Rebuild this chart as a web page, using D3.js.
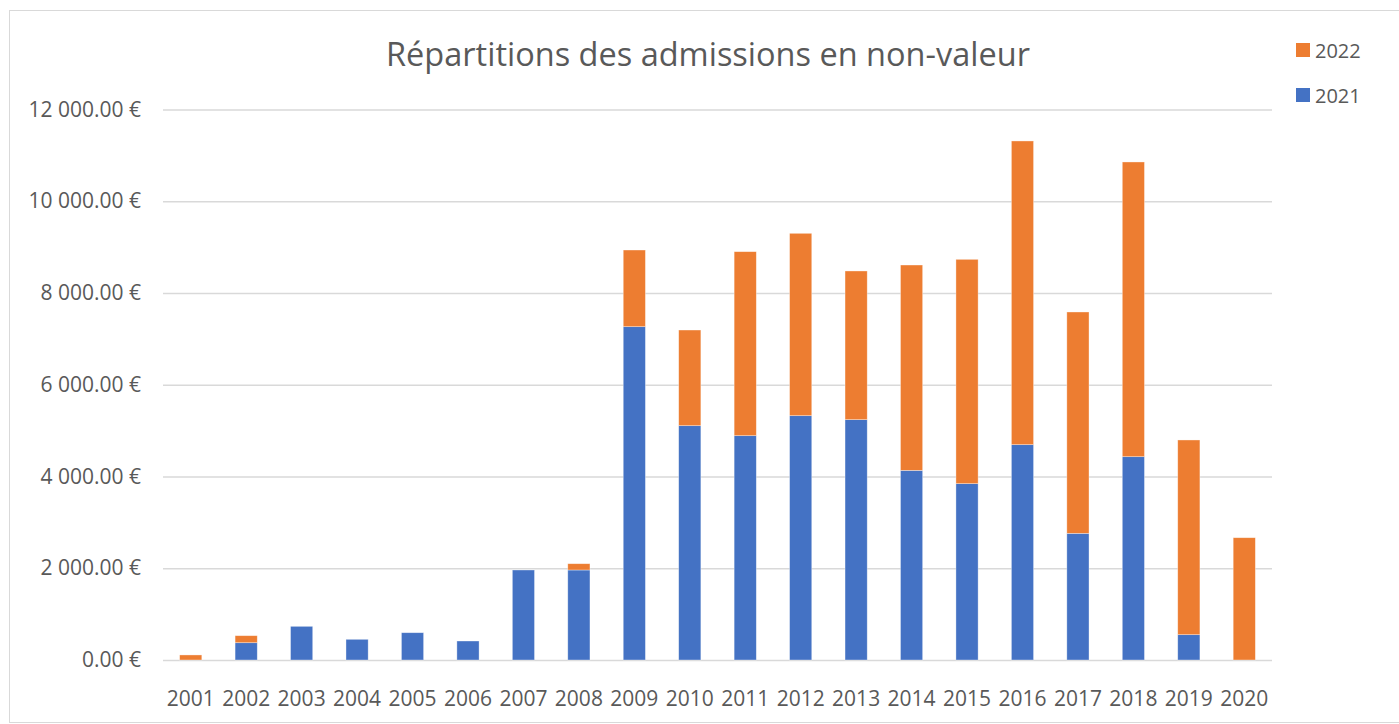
<!DOCTYPE html>
<html>
<head>
<meta charset="utf-8">
<script src="https://cdn.jsdelivr.net/npm/d3@7"></script>
<style>
  html, body { margin: 0; padding: 0; background: #fff; }
  svg { display: block; font-family: "Open Sans", sans-serif; }
</style>
</head>
<body>
<svg id="chart"></svg>
<script>
const years = ["2001","2002","2003","2004","2005","2006","2007","2008","2009","2010",
               "2011","2012","2013","2014","2015","2016","2017","2018","2019","2020"];
const v2021 = [0, 377, 734, 451, 595, 414, 1962, 1962, 7266, 5108,
               4890, 5326, 5239, 4134, 3844, 4694, 2761, 4432, 552, 0];
const v2022 = [110, 153, 0, 0, 0, 0, 0, 137, 1671, 2085,
               4011, 3975, 3241, 4476, 4890, 6620, 4825, 6424, 4244, 2666];
const yTicks = [0, 2000, 4000, 6000, 8000, 10000, 12000];
const seriesNames = ["2021", "2022"];

const colors = { "2021": "#4472C4", "2022": "#ED7D31" };
const W = 1399, H = 724;
const m = { left: 163, right: 127, top: 109.5, bottom: 64 };
const font = '"Open Sans", sans-serif';

const rows = years.map((y, i) => ({ year: y, "2021": v2021[i], "2022": v2022[i] }));
const stacked = d3.stack().keys(seriesNames)(rows);

const svg = d3.select("#chart").attr("width", W).attr("height", H);

// outer frame
svg.append("rect")
  .attr("x", 9.5).attr("y", 10.5)
  .attr("width", W).attr("height", H - 12)
  .attr("fill", "none").attr("stroke", "#d9d9d9").attr("stroke-width", 1);

const x = d3.scaleBand()
  .domain(years)
  .range([m.left, W - m.right])
  .paddingInner(0.6)
  .paddingOuter(0.3);

const y = d3.scaleLinear()
  .domain([0, 12000])
  .range([H - m.bottom, m.top]);

const fmt = v => d3.format(",.2f")(v).replace(/,/g, " ") + " €";

// gridlines + y labels
const yAxis = svg.append("g")
  .attr("transform", `translate(${m.left},0)`)
  .call(d3.axisLeft(y).tickValues(yTicks).tickSize(-(W - m.right - m.left)).tickFormat(fmt).tickPadding(22));
yAxis.attr("font-family", font);
yAxis.select(".domain").remove();
yAxis.selectAll(".tick line").attr("stroke", "#d9d9d9").attr("stroke-width", 1.3);
yAxis.selectAll(".tick text")
  .attr("fill", "#595959").style("font-size", "21px");

// bars
svg.append("g")
  .selectAll("g")
  .data(stacked)
  .join("g")
  .attr("fill", d => colors[d.key])
  .selectAll("rect")
  .data(d => d)
  .join("rect")
  .attr("x", d => x(d.data.year))
  .attr("width", x.bandwidth())
  .attr("y", d => y(d[1]))
  .attr("height", d => y(d[0]) - y(d[1]))
  .attr("stroke", "#fff").attr("stroke-opacity", 0.5).attr("stroke-width", 0.7);

// x labels
const xAxis = svg.append("g")
  .attr("transform", `translate(0,${H - m.bottom})`)
  .call(d3.axisBottom(x).tickSize(0).tickPadding(31));
xAxis.attr("font-family", font);
xAxis.select(".domain").remove();
xAxis.selectAll(".tick text")
  .attr("fill", "#595959").style("font-size", "21px");

// title
svg.append("text")
  .attr("x", 708).attr("y", 66)
  .attr("text-anchor", "middle")
  .attr("fill", "#595959")
  .style("font-size", "32.5px")
  .text("Répartitions des admissions en non-valeur");

// legend
const legend = svg.append("g")
  .selectAll("g")
  .data(["2022", "2021"])
  .join("g")
  .attr("transform", (d, i) => `translate(1296,${43 + i * 45})`);
legend.append("rect")
  .attr("width", 14).attr("height", 14)
  .attr("fill", d => colors[d]);
legend.append("text")
  .attr("x", 19).attr("y", 14.5)
  .attr("fill", "#595959")
  .style("font-size", "20px")
  .text(d => d);
</script>
</body>
</html>
